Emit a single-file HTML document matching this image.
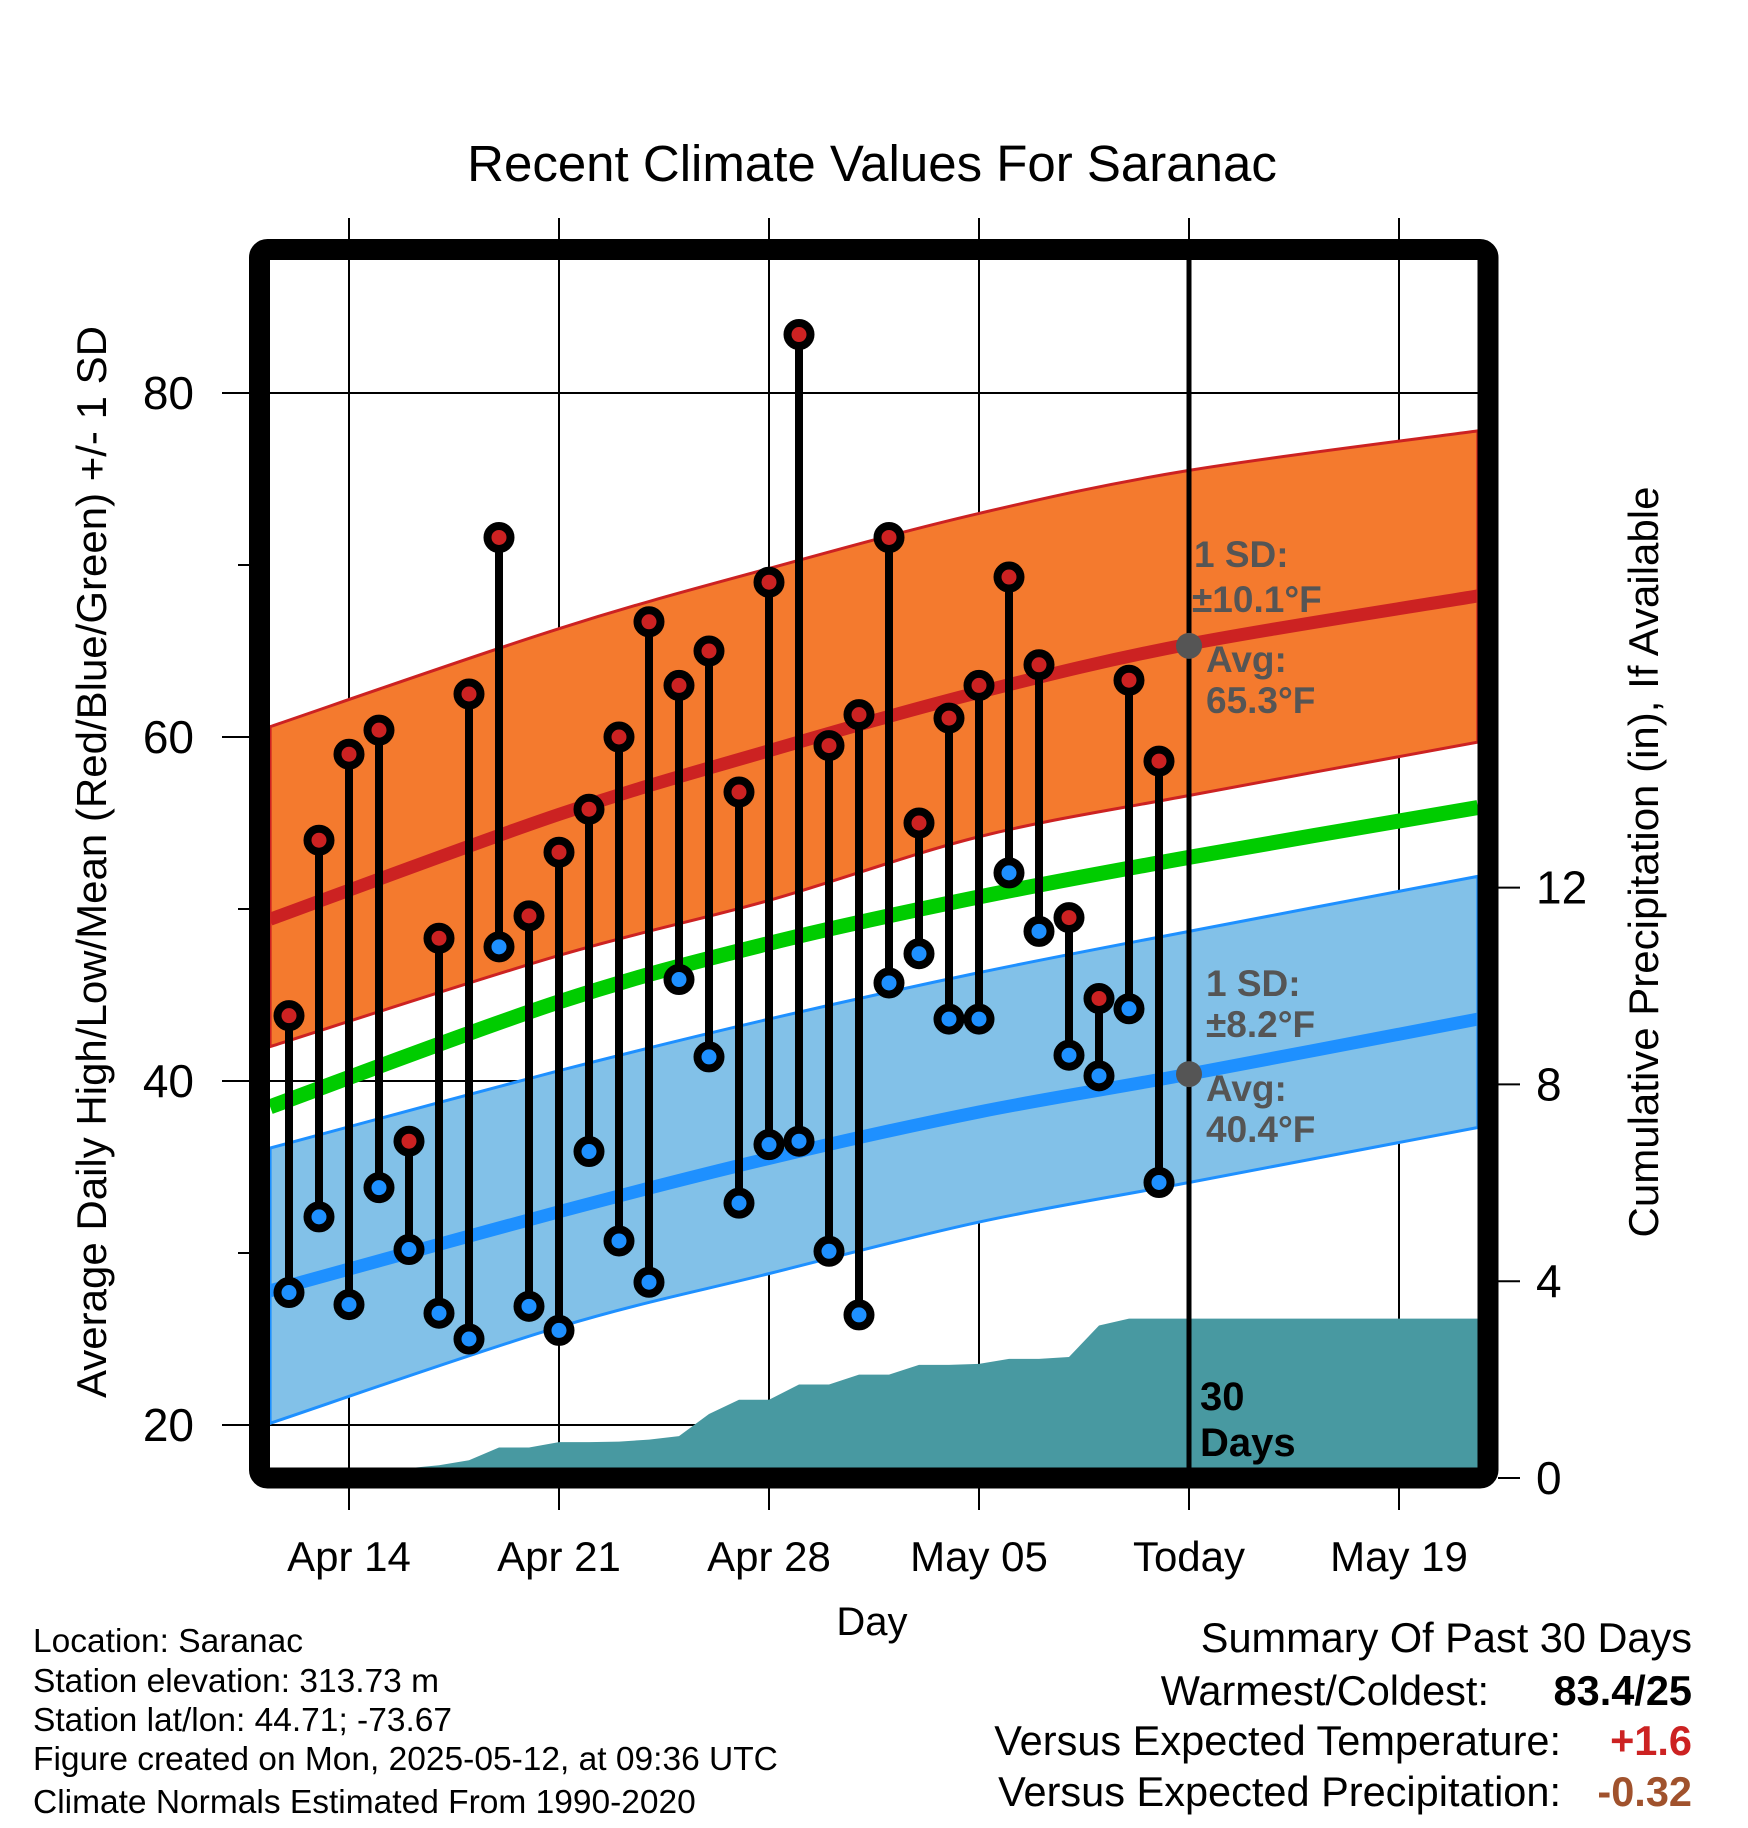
<!DOCTYPE html>
<html><head><meta charset="utf-8">
<style>
html,body{margin:0;padding:0;background:#fff;}
svg{display:block;font-family:"Liberation Sans",Arial,sans-serif;}
</style></head>
<body>
<svg id="chart" width="1748" height="1828" viewBox="0 0 1748 1828" xmlns="http://www.w3.org/2000/svg">
<defs><clipPath id="plotclip"><rect x="270" y="260" width="1208" height="1208"/></clipPath></defs>
<rect x="0" y="0" width="1748" height="1828" fill="#fff"/>
<text x="872" y="181" font-size="51" text-anchor="middle">Recent Climate Values For Saranac</text>
<g id="grid"></g>
<g id="plot" clip-path="url(#plotclip)"></g>
<g id="marks"></g>
<rect x="259.5" y="249.5" width="1228.5" height="1228.5" rx="8" fill="none" stroke="#000" stroke-width="21"/>
<g id="labels"></g>
<text transform="translate(106,862) rotate(-90)" font-size="42" text-anchor="middle">Average Daily High/Low/Mean (Red/Blue/Green) +/- 1 SD</text>
<text transform="translate(1658,862) rotate(-90)" font-size="42" text-anchor="middle">Cumulative Precipitation (in), If Available</text>
<text x="872" y="1635" font-size="40" text-anchor="middle">Day</text>
<g font-size="33.5">
<text x="33" y="1652">Location: Saranac</text>
<text x="33" y="1692">Station elevation: 313.73 m</text>
<text x="33" y="1731">Station lat/lon: 44.71; -73.67</text>
<text x="33" y="1770">Figure created on Mon, 2025-05-12, at 09:36 UTC</text>
<text x="33" y="1813">Climate Normals Estimated From 1990-2020</text>
</g>
<g font-size="41.5">
<text x="1692" y="1652" text-anchor="end">Summary Of Past 30 Days</text>
<text x="1489" y="1705" text-anchor="end">Warmest/Coldest:</text>
<text x="1692" y="1705" text-anchor="end" font-weight="bold">83.4/25</text>
<text x="1561" y="1755" text-anchor="end">Versus Expected Temperature:</text>
<text x="1692" y="1755" text-anchor="end" font-weight="bold" fill="#cc2222">+1.6</text>
<text x="1561" y="1806" text-anchor="end">Versus Expected Precipitation:</text>
<text x="1692" y="1806" text-anchor="end" font-weight="bold" fill="#a0522d">-0.32</text>
</g>
</svg>
<script>
// ---- data ----
const obsDays = [-2,-1,0,1,2,3,4,5,6,7,8,9,10,11,12,13,14,15,16,17,18,19,20,21,22,23,24,25,26,27]; // days since Apr 14
const highs = [43.8,54.0,59.0,60.4,36.5,48.3,62.5,71.6,49.6,53.3,55.8,60.0,66.7,63.0,65.0,56.8,69.0,83.4,59.5,61.3,71.6,55.0,61.1,63.0,69.3,64.2,49.5,44.8,63.3,58.6];
const lows = [27.7,32.1,27.0,33.8,30.2,26.5,25.0,47.8,26.9,25.5,35.9,30.7,28.3,45.9,41.4,32.9,36.3,36.5,30.1,26.4,45.7,47.4,43.6,43.6,52.1,48.7,41.5,40.3,44.2,34.1];
const precip = [0,0,0.02,0.19,0.2,0.26,0.36,0.62,0.62,0.73,0.73,0.74,0.78,0.85,1.3,1.59,1.59,1.9,1.9,2.1,2.1,2.3,2.3,2.32,2.42,2.42,2.46,3.1,3.24,3.24];
const normDays = [-2.63,7,14,21,28,37.63];
const highMean = [49.4,55.5,59.2,62.6,65.4,68.2];
const highUpper = [60.6,66.3,69.8,73.0,75.5,77.8];
const highLower = [42.0,47.3,50.5,54.2,56.6,59.7];
const avgMean = [38.5,44.6,48.0,50.7,53.0,55.9];
const lowMean = [27.8,32.4,35.5,38.2,40.4,43.6];
const lowUpper = [36.1,40.6,43.6,46.3,48.7,51.9];
const lowLower = [20.1,25.7,28.8,31.8,34.1,37.3];
const xTickDays = [0,7,14,21,28,35];
const xTickLabels = ["Apr 14","Apr 21","Apr 28","May 05","Today","May 19"];
const yTicks = [20,40,60,80];
const yMinor = [30,50,70];
const pTicks = [0,4,8,12];
const todayDay = 28;
const todayHigh = 65.3, todayLow = 40.4;

// ---- scales ----
const X = d => 349 + d*30;
const Y = t => 393 + (80 - t)*17.2;
const P = p => 1478 - p*49.2;
const NS = "http://www.w3.org/2000/svg";
function mk(tag, attrs, parent){const e=document.createElementNS(NS,tag);for(const k in attrs)e.setAttribute(k,attrs[k]);parent.appendChild(e);return e;}
const grid=document.getElementById('grid'), plot=document.getElementById('plot'), marks=document.getElementById('marks'), labels=document.getElementById('labels');

// grid
xTickDays.forEach((d,i)=>{
  const l=mk('line',{x1:X(d),x2:X(d),y1:218,y2:1510,stroke:'#000','stroke-width':2},grid);
  
  
  const t=mk('text',{x:X(d),y:1571,'font-size':42,'text-anchor':'middle'},labels);
  t.textContent=xTickLabels[i];
  
  
});
yTicks.forEach(v=>{
  const l=mk('line',{x1:222,x2:1478,y1:Y(v),y2:Y(v),stroke:'#000','stroke-width':2},grid);
  
  
  const t=mk('text',{x:194,y:Y(v)+16,'font-size':46,'text-anchor':'end'},labels);
  t.textContent=v;
  
  
});
yMinor.forEach(v=>{
  const l=mk('line',{x1:238,x2:250,y1:Y(v),y2:Y(v),stroke:'#000','stroke-width':2},grid);
  
  
});
pTicks.forEach(v=>{
  const l=mk('line',{x1:1498,x2:1520,y1:P(v),y2:P(v),stroke:'#000','stroke-width':2},labels);
  
  
  const t=mk('text',{x:1536,y:P(v)+16,'font-size':46},labels);
  t.textContent=v;
  
  
});

// smooth Catmull-Rom path through points
function smooth(p){
  let s='M'+p[0][0]+','+p[0][1];
  for(let i=0;i<p.length-1;i++){
    const p0=p[i-1]||p[i], p1=p[i], p2=p[i+1], p3=p[i+2]||p[i+1];
    const c1=[p1[0]+(p2[0]-p0[0])/6, p1[1]+(p2[1]-p0[1])/6];
    const c2=[p2[0]-(p3[0]-p1[0])/6, p2[1]-(p3[1]-p1[1])/6];
    s+=' C'+c1[0]+','+c1[1]+' '+c2[0]+','+c2[1]+' '+p2[0]+','+p2[1];
  }
  return s;
}
function ptsArr(arr){return normDays.map((d,i)=>[X(d),Y(arr[i])]);}
function bandPath(up,lo){
  const u=ptsArr(up), l=ptsArr(lo).reverse();
  return smooth(u)+' L'+l[0][0]+','+l[0][1]+' '+smooth(l).slice(1).replace(/^[^C]*/,'')+' Z';
}

const hb=mk('path',{d:bandPath(highUpper,highLower),fill:'#f47a2e',stroke:'#cc2222','stroke-width':3},plot);


const lb=mk('path',{d:bandPath(lowUpper,lowLower),fill:'#82c1e8',stroke:'#1e90ff','stroke-width':3},plot);


const hm=mk('path',{d:smooth(ptsArr(highMean)),fill:'none',stroke:'#cc2222','stroke-width':13},plot);


const lm=mk('path',{d:smooth(ptsArr(lowMean)),fill:'none',stroke:'#1e90ff','stroke-width':13},plot);


const am=mk('path',{d:smooth(ptsArr(avgMean)),fill:'none',stroke:'#00cc00','stroke-width':15},plot);



// precip area
let pp=[X(obsDays[0])+','+1500];
obsDays.forEach((d,i)=>pp.push(X(d)+','+P(precip[i])));
pp.push(1490+','+P(precip[precip.length-1]));
pp.push(1490+','+1500);
const pa=mk('polygon',{points:pp.join(' '),fill:'#4899a1'},plot);



// today line
const tl=mk('line',{x1:X(todayDay),x2:X(todayDay),y1:260,y2:1468,stroke:'#000','stroke-width':5},plot);



// annotations
[todayHigh,todayLow].forEach(v=>{
  const c=mk('circle',{cx:X(todayDay),cy:Y(v),r:13,fill:'#555'},marks);
  
  
});
const ann=[["1 SD:",1194,567],["±10.1°F",1192,612],["Avg:",1206,672],["65.3°F",1206,713],["1 SD:",1206,996],["±8.2°F",1206,1037],["Avg:",1206,1101],["40.4°F",1206,1142]];
ann.forEach(a=>{
  const t=mk('text',{x:a[1],y:a[2],'font-size':37,'font-weight':'bold',fill:'#555'},marks);
  t.textContent=a[0];
  
  
});
[["30",1410],["Days",1456]].forEach(a=>{
  const t=mk('text',{x:1200,y:a[1],'font-size':40,'font-weight':'bold'},marks);
  t.textContent=a[0];
  
  
});

// observations
obsDays.forEach((d,i)=>{
  const x=X(d);
  const s=mk('line',{x1:x,x2:x,y1:Y(highs[i]),y2:Y(lows[i]),stroke:'#000','stroke-width':8},marks);
  
  
  const h=mk('circle',{cx:x,cy:Y(highs[i]),r:11.5,fill:'#cc2222',stroke:'#000','stroke-width':8},marks);
  
  
  const l=mk('circle',{cx:x,cy:Y(lows[i]),r:11.5,fill:'#1e90ff',stroke:'#000','stroke-width':8},marks);
  
  
});
</script>
</body></html>
